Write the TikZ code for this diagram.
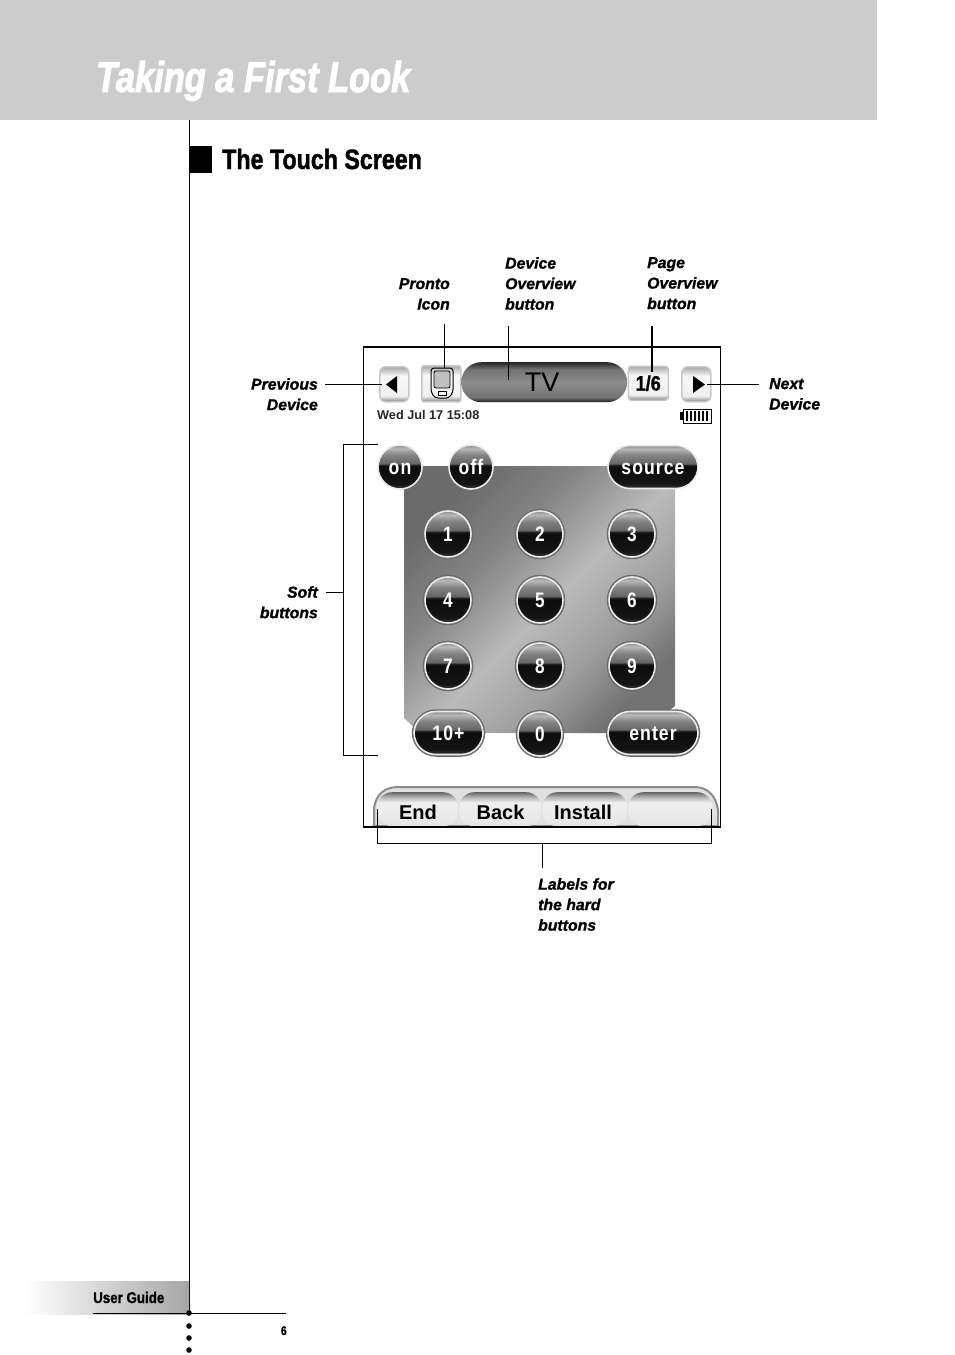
\documentclass[tikz,border=0pt]{standalone}
\usepackage{fontspec}
\setmainfont{Liberation Sans}
\newfontfamily\titlefont[FakeStretch=0.8,FakeBold=2.2]{Liberation Sans}
\newfontfamily\headfont[FakeStretch=0.83,FakeBold=1.4]{Liberation Sans}
\newfontfamily\guidefont[FakeStretch=0.86,FakeBold=1.2]{Liberation Sans}
\newfontfamily\callfont[FakeBold=1.1]{Liberation Sans}
\newfontfamily\keyfont[FakeStretch=0.84,LetterSpace=5]{Liberation Sans}
\newfontfamily\digitfont[FakeStretch=0.82]{Liberation Sans}
\usetikzlibrary{calc}
\definecolor{band}{HTML}{CCCCCC}
\pgfdeclareverticalshading{ball}{100bp}{color(0bp)=(black!78); color(25bp)=(black!78); color(31bp)=(black!92); color(50bp)=(black!95); color(52bp)=(black!90); color(54bp)=(black!60); color(64bp)=(black!48); color(71bp)=(black!28); color(75bp)=(black!45); color(100bp)=(black!45)}
\pgfdeclareverticalshading{tabbg}{100bp}{color(0bp)=(black!10); color(25bp)=(black!10); color(60bp)=(black!6); color(68bp)=(black!30); color(75bp)=(black!60); color(100bp)=(black!60)}
\pgfdeclareverticalshading{pill}{100bp}{color(0bp)=(black!90); color(25bp)=(black!90); color(31bp)=(black!55); color(50bp)=(black!45); color(66bp)=(black!55); color(75bp)=(black!85); color(100bp)=(black!85)}
\pgfdeclareverticalshading{key}{100bp}{color(0bp)=(black!50); color(25bp)=(black!50); color(33bp)=(black!6); color(62bp)=(black!3); color(75bp)=(black!35); color(100bp)=(black!35)}
\pgfdeclarehorizontalshading{sheen}{100bp}{color(0bp)=(black!58); color(25bp)=(black!58); color(38bp)=(black!48); color(52bp)=(black!27); color(64bp)=(black!38); color(75bp)=(black!55); color(100bp)=(black!55)}

\begin{document}
\begin{tikzpicture}[x=1pt,y=-1pt]
\tikzset{>=latex}
\tikzset{
  call/.style={font=\callfont\bfseries\itshape\fontsize{15.8}{20.5}\selectfont, inner sep=0pt},
  callr/.style={call, align=right, anchor=north east},
  calll/.style={call, align=left, anchor=north west},
  lead/.style={line width=0.8pt},
  ball/.style={circle, minimum size=#1, inner sep=0pt, shading=ball, draw=black!8, line width=1.6pt, text=white,
    font=\digitfont\bfseries\fontsize{21}{21}\selectfont},
  ringed/.style={preaction={draw=black!58, line width=4.5pt}},
  word/.style={font=\keyfont\bfseries\fontsize{21}{21}\selectfont, text height=15, text depth=0},
  capsule/.style={rounded corners=22, minimum height=43, inner sep=0pt, shading=ball, draw=black!8, line width=1.6pt, text=white, word},
  navkey/.style={rounded corners=6, shading=key, draw=black!22, line width=1.5pt, inner sep=0pt, anchor=north west},
  hardtab/.style={font=\bfseries\fontsize{20}{20}\selectfont, inner sep=0pt}
}
\useasboundingbox (0,0) rectangle (954,1355);

% page furniture
\fill[band] (0,0) rectangle (877,120);
\node[anchor=base west, inner sep=0pt, text=white, font=\titlefont\bfseries\itshape\fontsize{43}{43}\selectfont] (title) at (96,92) {Taking a First Look};
\draw[line width=1pt] (189,120) -- (189,1313);
\fill (189,146) rectangle (212,173);
\node[anchor=base west, inner sep=0pt, font=\headfont\bfseries\fontsize{28}{28}\selectfont] (head) at (222,169) {The Touch Screen};

% keypad backdrop
\shade[shading=sheen, shading angle=-45]
  (404,466) -- (675,466) -- (675,706) -- (640,733) -- (420,733) -- (404,718) -- cycle;

% top row of the touch screen
\node[navkey, minimum width=29, minimum height=35] (prev) at (379,366) {};
\fill (397,376) -- (397,393) -- (386,384.5) -- cycle;
\node[navkey, minimum width=39, minimum height=36, rounded corners=2] (logo) at (421,365) {};
\draw[line width=1pt, rounded corners=3] (431,368) -- (453,368) -- (453,392) -- (449,398) -- (435,398) -- (431,392) -- cycle;
\draw[line width=0.8pt, rounded corners=2, fill=black!25] (434,371) rectangle (450,388);
\draw[line width=0.7pt] (438,391) rectangle (446,395);
\node[rounded corners=20, shading=pill, minimum width=166, minimum height=40, inner sep=0pt, anchor=north west] (bar) at (461,362) {};
\node[inner sep=0pt, font=\fontsize{27}{27}\selectfont] (tv) at (542,382) {TV};
\node[navkey, minimum width=40, minimum height=34, rounded corners=3, font=\guidefont\bfseries\fontsize{21}{21}\selectfont] (page) at (627.5,365.5) {1/6};
\node[navkey, minimum width=29, minimum height=35] (next) at (681,366) {};
\fill (693,376) -- (693,393) -- (705,384.5) -- cycle;
\node[anchor=base west, inner sep=0pt, text=black!85, font=\bfseries\fontsize{12.7}{12.7}\selectfont] (date) at (377,419) {Wed Jul 17 15:08};
\draw[line width=1pt] (683,409) rectangle (711,423);
\fill (680,412) rectangle (683,420);
\foreach \x in {686,690,...,706} \fill (\x,411) rectangle ++(2.4,10);

% soft buttons
\node[ball=44, word] (on) at (400,467) {on};
\node[ball=44, word] (off) at (471,467) {off};
\node[capsule, minimum width=90] (source) at (653,467) {source};
\foreach \x/\col in {448/a,540/b,632/c}
  \foreach \y/\row in {534/a,600/b,666/c}
    \coordinate (k\row\col) at (\x,\y);
\node[ball=46, ringed] (n1) at (kaa) {1};
\node[ball=46, ringed] (n2) at (kab) {2};
\node[ball=46, ringed] (n3) at (kac) {3};
\node[ball=46, ringed] (n4) at (kba) {4};
\node[ball=46, ringed] (n5) at (kbb) {5};
\node[ball=46, ringed] (n6) at (kbc) {6};
\node[ball=46, ringed] (n7) at (kca) {7};
\node[ball=46, ringed] (n8) at (kcb) {8};
\node[ball=46, ringed] (n9) at (kcc) {9};
\node[capsule, minimum width=69, ringed] (ten) at (448.5,733) {10+};
\node[ball=44, ringed] (zero) at (540,734) {0};
\node[capsule, minimum width=90, ringed] (enter) at (653,733) {enter};

% hard button labels
\draw[line width=2pt, black!45, fill=black!12] (374,826) -- (374,808) .. controls (376,794) and (385,787) .. (398,787)
  -- (694,787) .. controls (708,787) and (716,796) .. (718,810) -- (718,826) -- cycle;
\foreach \x/\w/\t in {377/81/end,459/82/back,542/85/install,628/84/blank}
  \node[shading=tabbg, minimum width=\w, minimum height=34, inner sep=0pt, anchor=north west,
    rounded corners=15] (tab\t) at (\x,792) {};
\node[hardtab] (end) at (418,812) {End};
\node[hardtab] (back) at (500.5,812) {Back};
\node[hardtab] (install) at (583,812) {Install};

% screen frame goes over the artwork
\draw[line width=1.4pt] (363.5,347) rectangle (720.5,827);

% callouts
\node[callr] (pronto) at (450,278) {Pronto\\Icon};
\node[calll] (device) at (505,257) {Device\\Overview\\button};
\node[calll] (pageview) at (647,257) {Page\\Overview\\button};
\node[callr] (before) at (318,378) {Previous\\Device};
\node[calll] (after) at (769,378) {Next\\Device};
\node[callr] (soft) at (318,586) {Soft\\buttons};
\node[calll] (hard) at (538,878) {Labels for\\the hard\\buttons};

\coordinate (p1) at (444.5,324);
\coordinate (p2) at (444.5,368);
\coordinate (d1) at (508.5,326);
\coordinate (d2) at (508.5,380);
\coordinate (o1) at (652,326);
\coordinate (o2) at (652,372);
\coordinate (b1) at (325,384);
\coordinate (b2) at (382,384);
\coordinate (a1) at (707,384);
\coordinate (a2) at (759,384);
\coordinate (s1) at (378,444);
\coordinate (s2) at (343,444);
\coordinate (s3) at (343,755);
\coordinate (s4) at (378,755);
\coordinate (s5) at (326,592);
\coordinate (h1) at (377,809);
\coordinate (h2) at (377,843.5);
\coordinate (h3) at (711,843.5);
\coordinate (h4) at (711,809);
\coordinate (h5) at (542.5,843.5);
\coordinate (h6) at (542.5,868);

\draw[lead] (p1) -- (p2);
\draw[lead] (d1) -- (d2);
\draw[line width=1.4pt] (o1) -- (o2);
\draw[lead] (b1) -- (b2);
\draw[lead] (a1) -- (a2);
\draw[lead] (s1) -- (s2) -- (s3) -- (s4);
\draw[lead] (s5) -- (s2 |- s5);
\draw[lead] (h1) -- (h2) -- (h3) -- (h4);
\draw[lead] (h5) -- (h6);

% footer
\shade[left color=white, right color=black!35] (25,1281) rectangle (189,1314);
\node[anchor=base west, inner sep=0pt, font=\guidefont\bfseries\fontsize{15.5}{15.5}\selectfont] (guide) at (93,1303) {User Guide};
\draw[line width=0.9pt] (93,1313.5) -- (286,1313.5);
\foreach \y in {1313,1326,1338,1350} \fill (189,\y) circle (2.8);
\node[anchor=base east, inner sep=0pt, font=\guidefont\bfseries\fontsize{12.5}{12.5}\selectfont] (folio) at (287,1335) {6};
\end{tikzpicture}
\end{document}
